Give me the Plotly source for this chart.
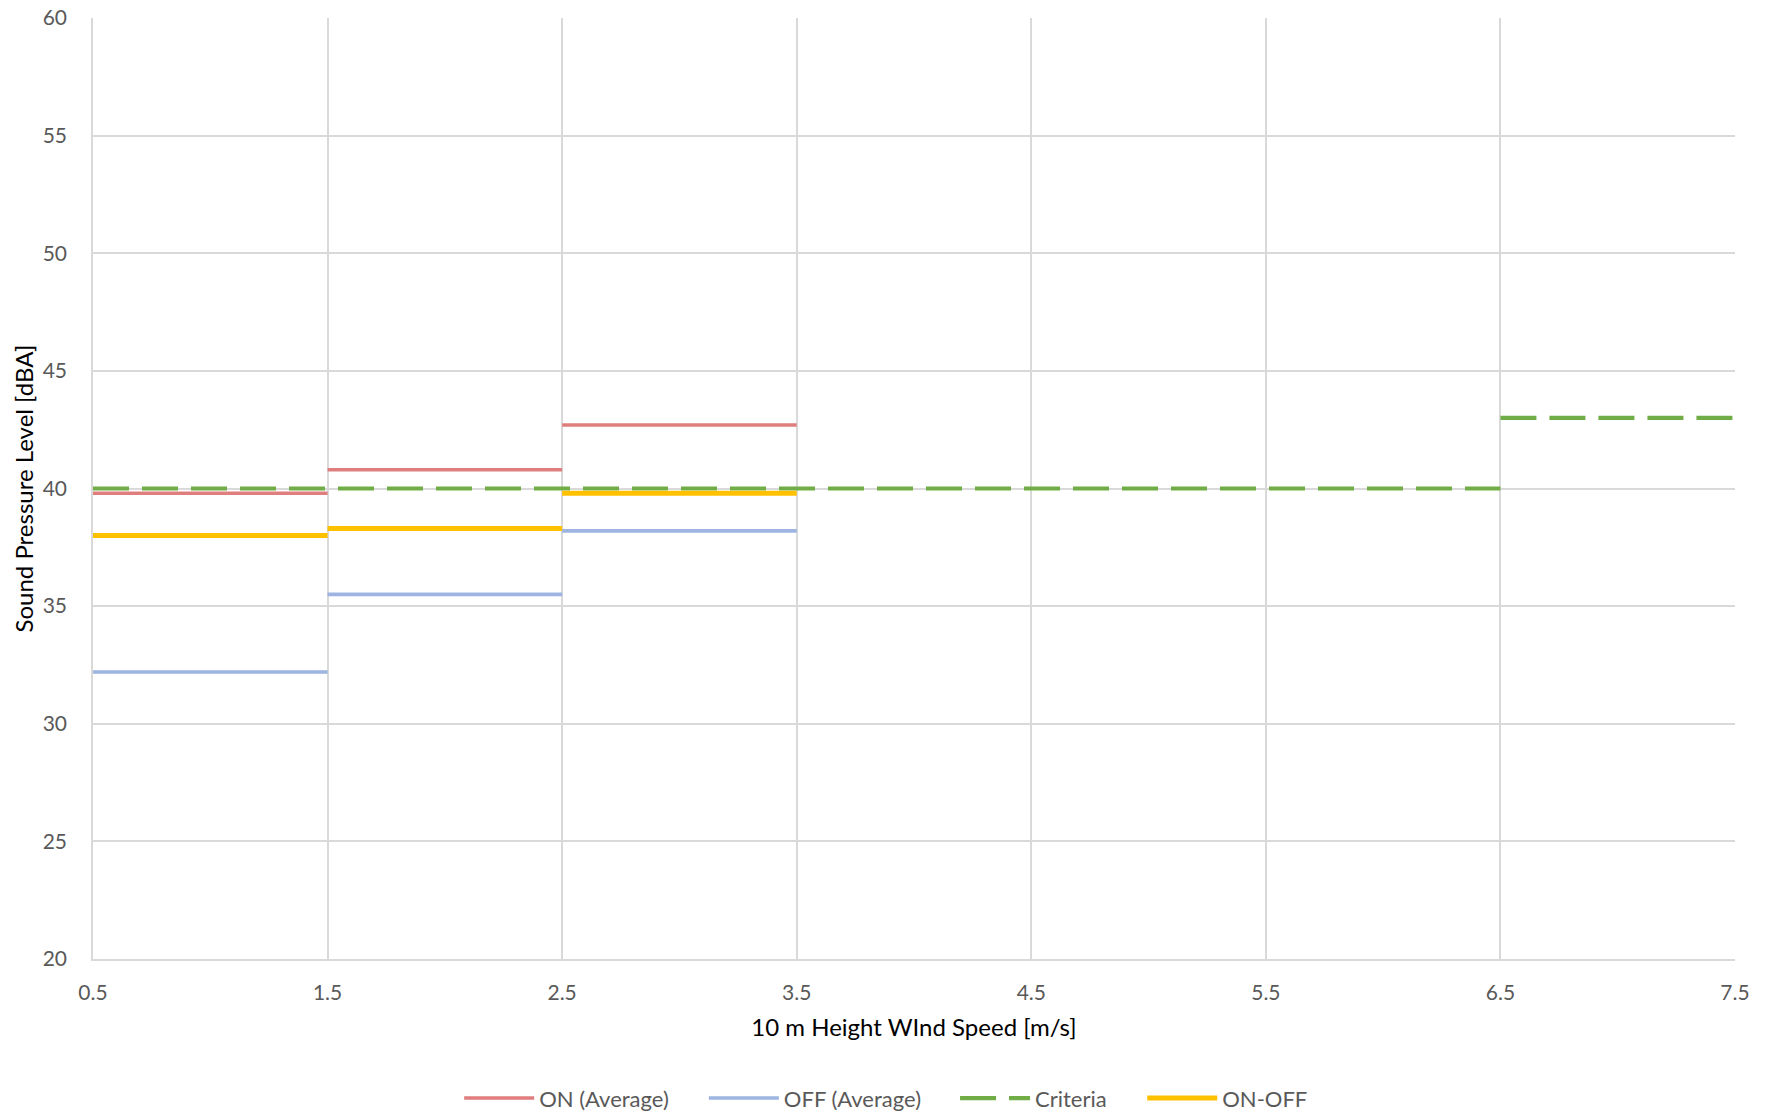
import plotly.graph_objects as go

# Wind speed bins (edges) and step values
bin_edges = [0.5, 1.5, 2.5, 3.5]
on_avg = [39.8, 40.8, 42.7]
off_avg = [32.2, 35.5, 38.2]
on_minus_off = [38.0, 38.3, 39.8]
criteria_edges = [0.5, 6.5, 7.5]
criteria = [40.0, 43.0]

x_ticks = [0.5, 1.5, 2.5, 3.5, 4.5, 5.5, 6.5, 7.5]
y_ticks = [20, 25, 30, 35, 40, 45, 50, 55, 60]


def steps(edges, vals):
    xs, ys = [], []
    for i, v in enumerate(vals):
        xs += [edges[i], edges[i + 1], None]
        ys += [v, v, None]
    return xs, ys


FONT = "Lato, Open Sans, sans-serif"
fig = go.Figure()
series = [
    ("ON (Average)", bin_edges, on_avg, "#E07E7E", 3.6, "solid", "legend", 0.2230),
    ("OFF (Average)", bin_edges, off_avg, "#9DB5E0", 3.6, "solid", "legend2", 0.3720),
    ("Criteria", criteria_edges, criteria, "#70AD47", 4.2, "36px,13px", "legend3", 0.5250),
    ("ON-OFF", bin_edges, on_minus_off, "#FFC000", 5, "solid", "legend4", 0.6390),
]
legends = {}
for name, edges, vals, color, w, dash, lg, lx in series:
    xs, ys = steps(edges, vals)
    fig.add_trace(go.Scatter(x=xs, y=ys, mode="lines", name=name,
                             line=dict(color=color, width=w, dash=dash),
                             connectgaps=False, legend=lg))
    legends[lg] = dict(orientation="h", x=lx, xanchor="left", y=-0.148, yanchor="middle",
                       font=dict(family=FONT, size=22, color="#595959"),
                       itemwidth=70, bgcolor="rgba(0,0,0,0)")

grid = "#D9D9D9"
tick_font = dict(family=FONT, size=21, color="#595959")
fig.update_layout(
    width=1771, height=1116,
    margin=dict(l=93, r=36, t=18, b=157, autoexpand=False),
    paper_bgcolor="white", plot_bgcolor="white",
    font=dict(family=FONT, size=20, color="#595959"),
    showlegend=True,
    xaxis=dict(range=[0.5, 7.5], tickvals=x_ticks, ticktext=[str(v) for v in x_ticks],
               showgrid=True, gridcolor=grid, gridwidth=1.5, zeroline=False,
               showline=True, linecolor=grid, linewidth=1.5, ticks="",
               tickfont=tick_font, ticklabelstandoff=14, automargin=False,
               ticklabeloverflow="allow",
               title=dict(text="10 m Height WInd Speed [m/s]",
                          font=dict(family=FONT, size=24, color="#000000"), standoff=16)),
    yaxis=dict(range=[20, 60], tickvals=y_ticks,
               showgrid=True, gridcolor=grid, gridwidth=1.5, zeroline=False,
               showline=True, linecolor=grid, linewidth=1.5, ticks="",
               tickfont=tick_font, ticklabelstandoff=20, automargin=False,
               ticklabeloverflow="allow"),
    annotations=[dict(text="Sound Pressure Level [dBA]", textangle=-90,
                      xref="paper", yref="paper", x=0, y=0.5,
                      xanchor="center", yanchor="middle", xshift=-70,
                      showarrow=False,
                      font=dict(family=FONT, size=24, color="#000000"))],
    **legends,
)

fig.write_html("out.html", config={"displayModeBar": False},
               post_script="document.body.style.margin='0';document.body.style.overflow='hidden';")
